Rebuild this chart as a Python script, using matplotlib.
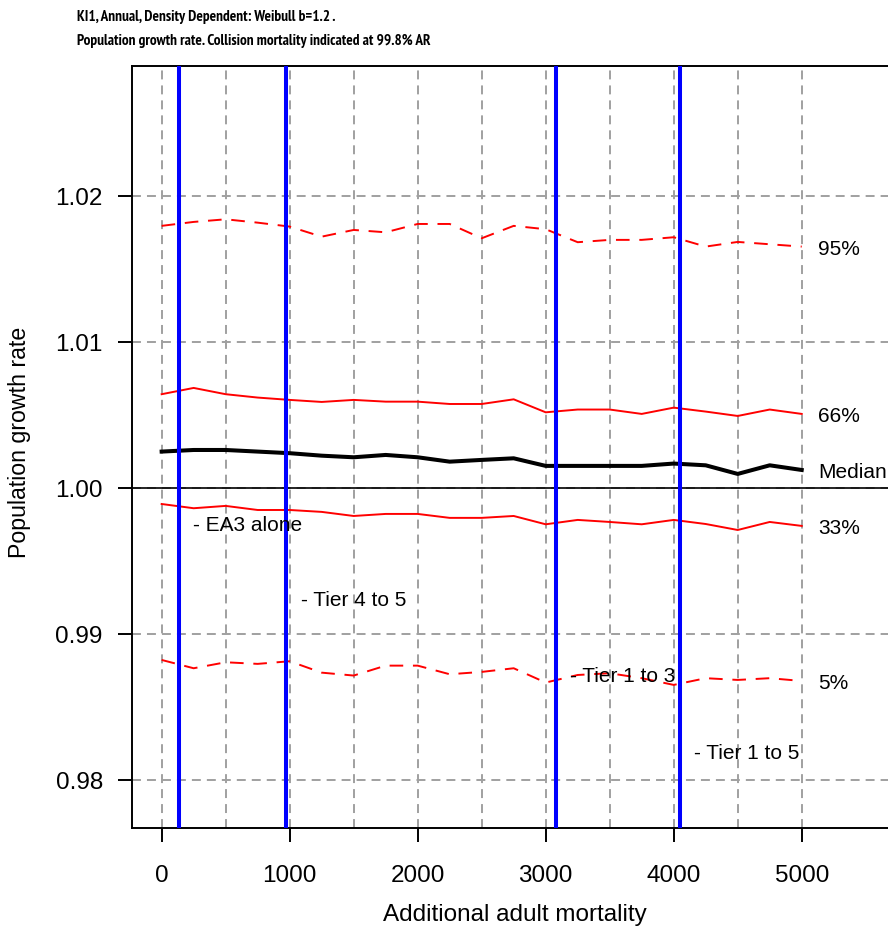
import matplotlib
matplotlib.use('Agg')
import matplotlib.pyplot as plt

plt.rcParams['font.family'] = ['Liberation Sans', 'DejaVu Sans']

# additional adult mortality (x) and growth rate quantiles
mortality = [0, 250, 500, 750, 1000, 1250, 1500, 1750, 2000, 2250, 2500,
             2750, 3000, 3250, 3500, 3750, 4000, 4250, 4500, 4750, 5000]
q95 = [1.01797, 1.01824, 1.01842, 1.01819, 1.01792, 1.01723, 1.01769, 1.01753,
       1.01810, 1.01810, 1.01712, 1.01797, 1.01774, 1.01685, 1.01701, 1.01701,
       1.01719, 1.01655, 1.01687, 1.01671, 1.01655]
q66 = [1.00644, 1.00687, 1.00644, 1.00621, 1.00605, 1.00591, 1.00605, 1.00593,
       1.00593, 1.00577, 1.00577, 1.00609, 1.00520, 1.00539, 1.00539, 1.00509,
       1.00552, 1.00525, 1.00495, 1.00539, 1.00509]
median = [1.00251, 1.00262, 1.00262, 1.00251, 1.00240, 1.00223, 1.00212, 1.00228,
          1.00212, 1.00182, 1.00194, 1.00205, 1.00153, 1.00153, 1.00153, 1.00153,
          1.00169, 1.00157, 1.00098, 1.00157, 1.00125]
q33 = [0.99892, 0.99863, 0.99879, 0.99851, 0.99851, 0.99838, 0.99810, 0.99824,
       0.99824, 0.99797, 0.99797, 0.99810, 0.99753, 0.99783, 0.99769, 0.99753,
       0.99783, 0.99755, 0.99714, 0.99769, 0.99742]
q05 = [0.98824, 0.98767, 0.98808, 0.98797, 0.98815, 0.98737, 0.98717, 0.98785,
       0.98785, 0.98726, 0.98742, 0.98767, 0.98669, 0.98721, 0.98733, 0.98699,
       0.98653, 0.98699, 0.98687, 0.98699, 0.98680]

# collision mortality markers
scenario_names = ['EA3 alone', 'Tier 4 to 5', 'Tier 1 to 3', 'Tier 1 to 5']
scenario_x = [135, 975, 3080, 4048]
scenario_label_y = [0.99742, 0.99229, 0.98709, 0.98182]

x_ticks = [0, 1000, 2000, 3000, 4000, 5000]
y_ticks = [0.98, 0.99, 1.00, 1.01, 1.02]

fig = plt.figure(figsize=(8.88, 9.32), dpi=100)
ax = fig.add_axes([0.1483, 0.1116, 0.8618, 0.8176])

ax.set_xlim(-234, 5744)
ax.set_ylim(0.97673, 1.02892)

grid_kw = dict(color='#a0a0a0', lw=1.4, dashes=(4.6, 3.1), zorder=1)
for gx in range(0, 5001, 500):
    ax.axvline(gx, **grid_kw)
for gy in y_ticks:
    ax.axhline(gy, **grid_kw)
ax.axhline(1.0, color='black', lw=1.2, zorder=2)

ax.plot(mortality, q95, color='red', lw=1.4, dashes=(7, 5), zorder=3)
ax.plot(mortality, q66, color='red', lw=1.4, zorder=3)
ax.plot(mortality, median, color='black', lw=2.9, zorder=3)
ax.plot(mortality, q33, color='red', lw=1.4, zorder=3)
ax.plot(mortality, q05, color='red', lw=1.4, dashes=(7, 5), zorder=3)

for name, sx, sy in zip(scenario_names, scenario_x, scenario_label_y):
    ax.axvline(sx, color='blue', lw=2.9, zorder=4)
    ax.text(sx + 110, sy, '- ' + name, fontsize=15, ha='left', va='center', zorder=5)

right_labels = ['95%', '66%', 'Median', '33%', '5%']
for lab, series in zip(right_labels, [q95, q66, median, q33, q05]):
    ax.text(mortality[-1] + 127, series[-1] - 0.0002, lab, fontsize=15,
            ha='left', va='center')

ax.set_xticks(x_ticks)
ax.set_xticklabels([str(t) for t in x_ticks])
ax.set_yticks(y_ticks)
ax.set_yticklabels(['%.2f' % t for t in y_ticks])
ax.tick_params(axis='both', direction='out', length=10, width=1.4, labelsize=17.5)
ax.tick_params(axis='x', pad=16.5)
ax.tick_params(axis='y', pad=10.8)
for sp in ax.spines.values():
    sp.set_linewidth(1.4)

fig.text(0.5794, 0.0182, 'Additional adult mortality', fontsize=17.5, ha='center', va='center')
fig.text(0.0225, 0.5250, 'Population growth rate', fontsize=16.7, rotation=90,
         ha='center', va='center')

# narrow bold face for the two title lines
title_font = ['PT Sans Narrow', 'Roboto Condensed', 'Liberation Sans']
fig.text(0.0867, 0.9778, 'KI1, Annual, Density Dependent: Weibull b=1.2 .',
         fontsize=11, fontweight='bold', family=title_font, va='baseline')
fig.text(0.0867, 0.9517, 'Population growth rate. Collision mortality indicated at 99.8% AR',
         fontsize=11, fontweight='bold', family=title_font, va='baseline')

fig.savefig('out.png', dpi=100)
